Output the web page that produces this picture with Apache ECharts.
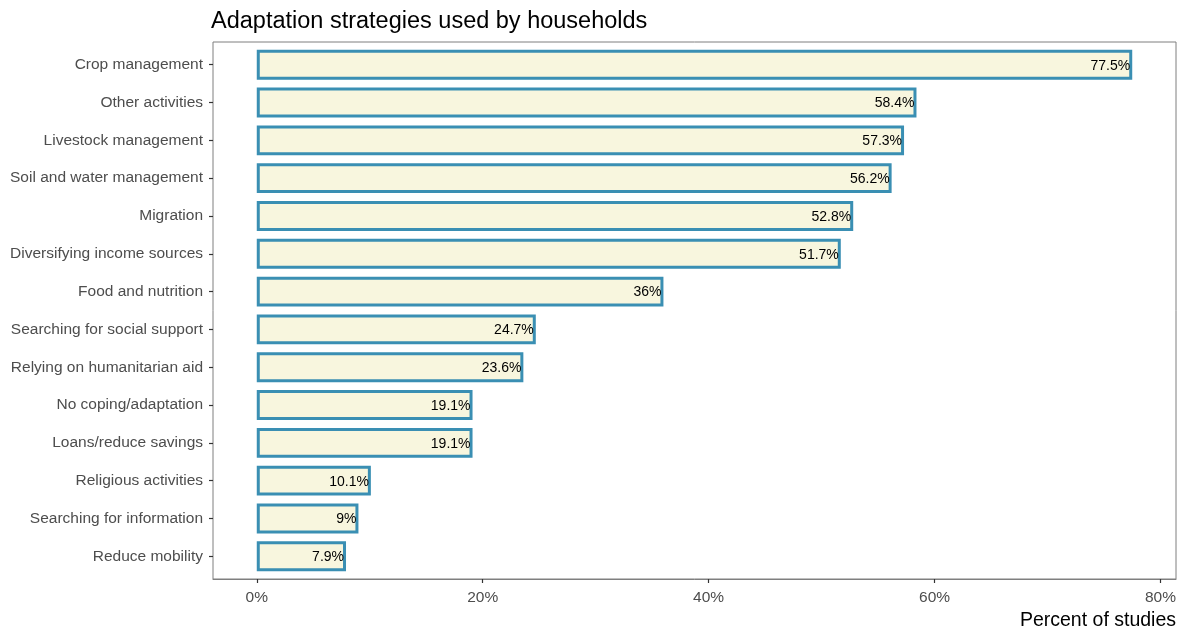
<!DOCTYPE html>
<html><head><meta charset="utf-8">
<script src="https://cdn.jsdelivr.net/npm/echarts@6/dist/echarts.min.js"></script>
<style>html,body{margin:0;padding:0;background:#fff}#c{width:1188px;height:632px}</style>
</head><body><div id="c"></div>
<script>
const categories = ["Crop management","Other activities","Livestock management","Soil and water management","Migration","Diversifying income sources","Food and nutrition","Searching for social support","Relying on humanitarian aid","No coping/adaptation","Loans/reduce savings","Religious activities","Searching for information","Reduce mobility"];
const values = [77.5,58.4,57.3,56.2,52.8,51.7,36,24.7,23.6,19.1,19.1,10.1,9,7.9];
const xTicks = [0,20,40,60,80];
const xMin = -3.875, xMax = 81.375;

const chart = echarts.init(document.getElementById('c'), null, {renderer:'canvas'});
const font = 'Liberation Sans, Arial, sans-serif';
const bandPx = 537/14.2;
chart.setOption({
  animation:false,
  backgroundColor:'#fff',
  title:[
    {text:'Adaptation strategies used by households', left:206, top:5, textStyle:{fontFamily:font,fontSize:23.5,fontWeight:'normal',color:'#000'}},
    {text:'Percent of studies', right:7, top:606, textStyle:{fontFamily:font,fontSize:19.5,fontWeight:'normal',color:'#000'}}
  ],
  grid:[
    {left:213,right:12,top:42+0.1*bandPx,bottom:53+0.1*bandPx,show:false},
    {left:213,right:12,top:42,bottom:53,show:true,borderColor:'#7f7f7f',borderWidth:1,backgroundColor:'transparent'}
  ],
  xAxis:[
    {gridIndex:0,type:'value',min:xMin,max:xMax,show:false},
    {gridIndex:1,type:'value',min:xMin,max:xMax,splitLine:{show:false},
     axisLine:{show:true,onZero:false,lineStyle:{color:'#7f7f7f',width:1}},
     axisTick:{show:true,length:4,lineStyle:{color:'#333',width:1.2},customValues:xTicks},
     axisLabel:{customValues:xTicks,formatter:v=>v+'%',color:'#4d4d4d',fontSize:15.5,fontFamily:font,margin:11}}
  ],
  yAxis:[
    {gridIndex:0,type:'category',data:categories,inverse:true,
     axisLine:{show:false,onZero:false},
     axisTick:{show:true,alignWithLabel:true,length:4,lineStyle:{color:'#333',width:1.2}},
     axisLabel:{color:'#4d4d4d',fontSize:15.5,fontFamily:font,margin:10}},
    {gridIndex:1,type:'value',show:false,min:0,max:1}
  ],
  series:[{
    type:'bar',xAxisIndex:0,yAxisIndex:0,data:values,barWidth:'79%',
    itemStyle:{color:'#f8f6de',borderColor:'#3a8fb3',borderWidth:3},
    label:{show:true,position:'insideRight',distance:2,formatter:p=>p.value+'%',color:'#000',fontSize:14,fontFamily:font,offset:[0,1]}
  }]
});
</script></body></html>
